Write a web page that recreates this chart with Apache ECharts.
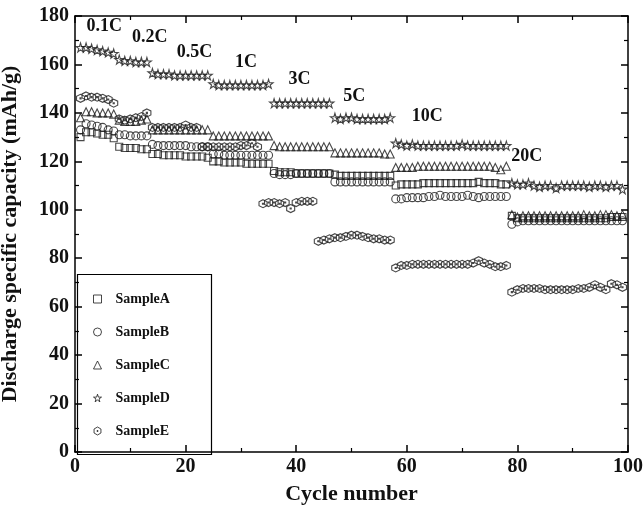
<!DOCTYPE html>
<html>
<head>
<meta charset="utf-8">
<script src="https://cdn.jsdelivr.net/npm/echarts@6/dist/echarts.min.js"></script>
<style>
html,body{margin:0;padding:0;background:#fff;}
#chart{width:643px;height:505px;}
</style>
</head>
<body>
<div id="chart"></div>
<script>
const cycles = [1,2,3,4,5,6,7,8,9,10,11,12,13,14,15,16,17,18,19,20,21,22,23,24,25,26,27,28,29,30,31,32,33,34,35,36,37,38,39,40,41,42,43,44,45,46,47,48,49,50,51,52,53,54,55,56,57,58,59,60,61,62,63,64,65,66,67,68,69,70,71,72,73,74,75,76,77,78,79,80,81,82,83,84,85,86,87,88,89,90,91,92,93,94,95,96,97,98,99];

const sampleA = [130,132,132,131.5,131,131,129.5,
  126,125.5,125.5,125.5,125,125,
  123,123,122.5,122.5,122.5,122.5,122,122,122,122,121.5,
  120,120,119.5,119.5,119.5,119.5,119,119,119,119,119,
  116,115.5,115.5,115.5,115,115,115,115,115,115,115,
  114.5,114,114,114,114,114,114,114,114,114,114,
  110,110.5,110.5,110.5,110.5,111,111,111,111,111,111,111,111,111,111,111.5,111,111,111,110.5,110.5,
  97.5,96.5,96.5,96.5,96.5,96.5,96.5,96.5,96.5,96.5,96.5,96.5,96.5,96.5,96.5,96.5,96.5,96.5,97,97,97];

const sampleB = [133,135.5,135,134.5,134,133,132.5,
  131,131,130.5,130.5,130.5,130.5,
  127,126.5,126.5,126.5,126.5,126.5,126.5,126,126,126,126,
  123,123,122.5,122.5,122.5,122.5,122.5,122.5,122.5,122.5,122.5,
  115,114.5,114.5,114.5,115,115,115,115,115,115,115,
  111.5,111.5,111.5,111.5,111.5,111.5,111.5,111.5,111.5,111.5,111.5,
  104.5,104.5,105,105,105,105,105.5,105.5,106,105.5,105.5,105.5,105.5,106,105.5,105,105.5,105.5,105.5,105.5,105.5,
  94,95,95.5,95.5,95.5,95.5,95.5,95.5,95.5,95.5,95.5,95.5,95.5,95.5,95.5,95.5,95.5,95.5,95.5,95.5,95.5];

const sampleC = [138,140.5,140.5,140,140,140,139.5,
  137,136.5,136.5,136.5,137,137.5,
  133,133,133,133,133,133,133,133,133,133,133,
  130.5,130.5,130.5,130.5,130.5,130.5,130.5,130.5,130.5,130.5,130.5,
  126.5,126,126,126,126,126,126,126,126,126,126,
  123.5,123.5,123.5,123.5,123.5,123.5,123.5,123.5,123.5,123,123,
  117.5,117.5,117.5,117.5,118,118,118,118,118,118,118,118,118,118,118,118,118,118,117.5,116.5,118,
  98,97,97.5,97.5,97.5,97.5,97.5,97.5,97.5,97.5,97.5,97.5,97.5,98,97.5,97.5,98,98,98,97.5,98];

const sampleD = [167,167,166.5,166,165.5,165,164.5,
  162,161.5,161.5,161,161,161,
  156.5,156,156,156,155.5,155.5,155.5,155.5,155.5,155.5,155.5,
  152,151.5,151.5,151.5,151.5,151.5,151.5,151.5,151.5,151.5,152,
  144,144,144,144,144,144,144,144,144,144,144,
  138,137.5,138,138,137.5,137.5,137.5,137.5,137.5,137.5,138,
  127.5,127,126.5,127,126.5,126.5,126.5,126.5,126.5,126.5,126.5,126.5,127,126.5,126.5,126.5,126.5,126.5,126.5,126.5,126.5,
  111,110.5,110.5,111,110,109.5,110,110,109,110,110,110,110,110,109.5,110,110,109.5,110,110,108.5];

const sampleE = [146,147,146.5,146.5,146,145.5,144,
  137.5,137,137.5,138,138.5,140,
  134,134,134,134,134,134,135,134,134,
  126,126,126,126,126,126,126,126.5,126.5,127.5,126,
  102.5,103,103,102.5,103,100.5,103,103.5,103.5,103.5,
  87,87.5,88,88.5,88.5,89,89.5,89.5,89,88.5,88,88,87.5,87.5,
  76,77,77,77.5,77.5,77.5,77.5,77.5,77.5,77.5,77.5,77.5,77.5,77.5,78,79,78,77.5,76.5,76.5,77,
  66,67,67.5,67.5,67.5,67.5,67,67,67,67,67,67,67.5,67.5,68,69,68,67,69.5,69,68];

const seriesNames = ['SampleA','SampleB','SampleC','SampleD','SampleE'];
const rateNames = ['0.1C','0.2C','0.5C','1C','3C','5C','10C','20C'];
const rateX = [5.4, 13.6, 21.7, 31, 40.7, 50.6, 63.8, 81.8];
const rateY = [175.5, 171, 164.7, 160.6, 153.6, 146.6, 138.3, 121.8];
const xTicks = [0,20,40,60,80,100];
const yTicks = [0,20,40,60,80,100,120,140,160,180];

const FONT = '"Liberation Serif", "Times New Roman", serif';
const INK = '#111';

const STAR = 'path://M50,0 L61,35 L98,35 L68,57 L79,91 L50,70 L21,91 L32,57 L2,35 L39,35 Z';
const HEX = 'path://M50,0 L93,25 L93,75 L50,100 L7,75 L7,25 Z M44,44 L56,44 L56,56 L44,56 Z';
const symbols = ['rect','circle','triangle',STAR,HEX];
const sizes = [7,8,8,9,8];
const allData = [sampleA, sampleB, sampleC, sampleD, sampleE];

const chart = echarts.init(document.getElementById('chart'), null, {renderer:'canvas'});

function pairs(vals){ return vals.map((v,i)=>[cycles[i], v]); }

const hollow = {color:'rgba(255,255,255,0)', borderColor:'#1a1a1a', borderWidth:1.1};

const series = seriesNames.map((n,k)=>({
  name:n, type:'scatter', data:pairs(allData[k]),
  symbol:symbols[k], symbolSize:sizes[k],
  itemStyle:hollow,
  emphasis:{disabled:true}, z:2
}));
series.push({
  name:'rates', type:'scatter', silent:true, symbolSize:1,
  itemStyle:{color:'rgba(0,0,0,0)', opacity:1},
  data: rateNames.map((t,i)=>({value:[rateX[i], rateY[i]], name:t})),
  label:{show:true, position:[0,0], align:'center', verticalAlign:'middle', formatter:p=>p.name,
    fontFamily:FONT, fontWeight:'bold', fontSize:18, color:'#111', opacity:1, textBorderWidth:0},
  emphasis:{disabled:true},
  z:3
});

const axisCommon = {
  axisLine:{show:true, onZero:false, lineStyle:{color:'#000', width:1.5}},
  axisTick:{show:true, inside:true, length:7, lineStyle:{color:'#000', width:1.5}},
  minorTick:{show:true, splitNumber:2, length:4, lineStyle:{color:'#000', width:1.2}},
  splitLine:{show:false}
};
const labelStyle = {fontFamily:FONT, fontWeight:'bold', fontSize:20, color:INK};

const option = {
  animation:false,
  backgroundColor:'#fff',
  grid:{left:75, right:15, top:16, bottom:53, containLabel:false, outerBoundsMode:'none'},
  xAxis:[
    Object.assign({type:'value', min:0, max:100, interval:20, position:'bottom',
      axisLabel:Object.assign({margin:5, formatter:v=>xTicks.includes(v)?String(v):''}, labelStyle),
      name:'Cycle number', nameLocation:'middle', nameGap:31,
      nameTextStyle:{fontFamily:FONT, fontWeight:'bold', fontSize:22, color:INK}}, axisCommon),
    Object.assign({type:'value', min:0, max:100, interval:20, position:'top', axisLabel:{show:false}}, axisCommon)
  ],
  yAxis:[
    Object.assign({type:'value', min:0, max:180, interval:20, position:'left',
      axisLabel:Object.assign({margin:6, formatter:v=>yTicks.includes(v)?String(v):''}, labelStyle),
      name:'Discharge specific capacity (mAh/g)', nameLocation:'middle', nameGap:54, nameRotate:90,
      nameTextStyle:{fontFamily:FONT, fontWeight:'bold', fontSize:22, color:INK}}, axisCommon),
    Object.assign({type:'value', min:0, max:180, interval:20, position:'right', axisLabel:{show:false}}, axisCommon)
  ],
  legend:{
    data:seriesNames, orient:'vertical', left:93, top:292,
    itemWidth:8, itemHeight:8, itemGap:19, padding:0,
    itemStyle:{color:'rgba(255,255,255,0)', borderColor:'#1a1a1a', borderWidth:1},
    textStyle:{fontFamily:FONT, fontWeight:'bold', fontSize:14, color:INK, padding:[0,0,0,9]},
    selectedMode:false
  },
  graphic:[{type:'rect', left:75, top:272, shape:{width:134, height:180},
    style:{fill:'none', stroke:'#000', lineWidth:1.2}, z:1, silent:true}],
  series:series
};
chart.setOption(option);
</script>
</body>
</html>
